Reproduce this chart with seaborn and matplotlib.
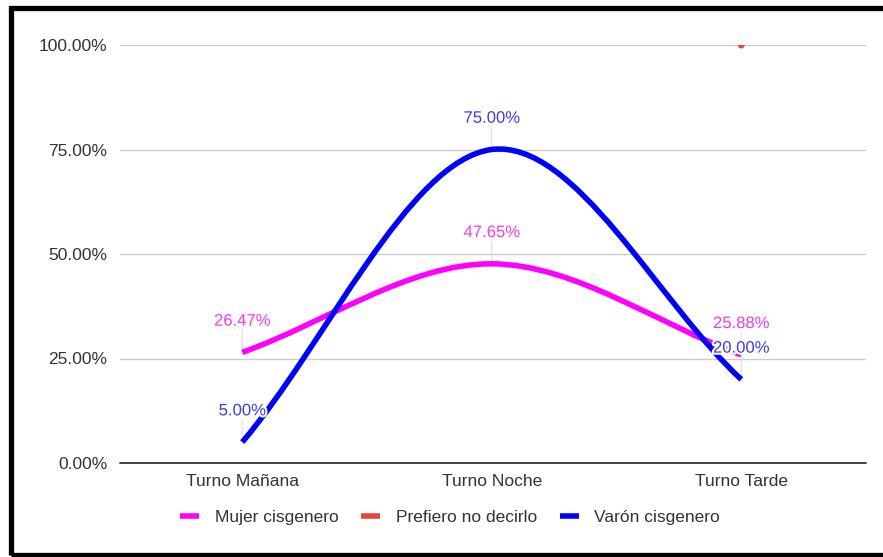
import numpy as np
import pandas as pd
import matplotlib
matplotlib.use("Agg")
import matplotlib.pyplot as plt
import seaborn as sns
from matplotlib.path import Path
from matplotlib.patches import PathPatch, Rectangle
from matplotlib.lines import Line2D
import matplotlib.patheffects as pe

# ---- data ----
categories = ["Turno Mañana", "Turno Noche", "Turno Tarde"]
mujer = [26.47, 47.65, 25.88]
prefiero = [None, None, 100.0]
varon = [5.00, 75.00, 20.00]
series_names = ["Mujer cisgenero", "Prefiero no decirlo", "Varón cisgenero"]
y_ticks = [0, 25, 50, 75, 100]

colors = {"Mujer cisgenero": "#ff00ff", "Prefiero no decirlo": "#e8453c", "Varón cisgenero": "#0000ff"}
label_colors = {"Mujer cisgenero": "#f03cf0", "Varón cisgenero": "#3c3ce6"}

sns.set_theme(style="white")
plt.rcParams["font.family"] = ["Liberation Sans", "DejaVu Sans"]

fig = plt.figure(figsize=(8.83, 5.57), dpi=100)
ax = fig.add_axes([120 / 883, 94 / 557, 746 / 883, 418 / 557])

x = np.arange(len(categories))


def smooth_path(xs, ys):
    pts = np.column_stack([xs, ys]).astype(float)
    n = len(pts)
    tang = []
    for i in range(n):
        if i == 0:
            t = pts[1] - pts[0]
        elif i == n - 1:
            t = pts[-1] - pts[-2]
        else:
            t = (pts[i + 1] - pts[i - 1]) / 2
        tang.append(t)
    verts = [pts[0]]
    codes = [Path.MOVETO]
    for i in range(n - 1):
        verts += [pts[i] + tang[i] / 3, pts[i + 1] - tang[i + 1] / 3, pts[i + 1]]
        codes += [Path.CURVE4] * 3
    return Path(verts, codes)


# gridlines
for yt in y_ticks:
    if yt == 0:
        ax.axhline(yt, color="#333333", lw=1.3, zorder=2, clip_on=False)
    else:
        ax.axhline(yt, color="#cccccc", lw=1.0, zorder=0.5)

# red single point
df_pref = pd.DataFrame({"x": x, "y": prefiero}).dropna()
sns.scatterplot(data=df_pref, x="x", y="y", ax=ax, color=colors["Prefiero no decirlo"],
                s=25, edgecolor="none", zorder=3, legend=False)

for name, vals in [("Mujer cisgenero", mujer), ("Varón cisgenero", varon)]:
    path = smooth_path(x, vals)
    ax.add_patch(PathPatch(path, facecolor="none", edgecolor=colors[name], lw=4.0,
                           capstyle="butt", zorder=3))
    for xi, v in zip(x, vals):
        ax.annotate("", xy=(xi, v), xytext=(0, 16), textcoords="offset points",
                    arrowprops=dict(arrowstyle="-", color="#dddddd", lw=0.8,
                                    shrinkA=0, shrinkB=0), zorder=1)
        ax.annotate(f"{v:.2f}%", xy=(xi, v), xytext=(0, 22.5), textcoords="offset points",
                    ha="center", va="center", fontsize=12, color=label_colors[name],
                    path_effects=[pe.withStroke(linewidth=3, foreground="white")], zorder=5)

ax.set_xlim(-0.49, 2.5)
ax.set_ylim(0, 100)
ax.set_xticks(x)
ax.set_xticklabels(categories)
ax.set_yticks(y_ticks)
ax.set_yticklabels([f"{v:.2f}%" for v in y_ticks])
ax.tick_params(axis="both", length=0, labelsize=12.5, colors="#333333")
ax.tick_params(axis="x", pad=8)
ax.tick_params(axis="y", pad=9)
for s in ax.spines.values():
    s.set_visible(False)
ax.set_xlabel("")
ax.set_ylabel("")

handles = [Line2D([0], [0], color=colors[n], lw=4, solid_capstyle="butt") for n in series_names]
fig.legend(handles, series_names, loc="center", bbox_to_anchor=(450 / 883, 40 / 557),
           ncol=3, frameon=False, fontsize=12.5, handlelength=1.1, handletextpad=0.9,
           columnspacing=1.3, labelcolor="#333333")

# black border
fig.patches.append(Rectangle((10.5 / 883, 2 / 557), 1.1, 547.5 / 557, transform=fig.transFigure,
                             fill=False, edgecolor="black", lw=3.8, zorder=10))

fig.savefig("out.png", dpi=100, facecolor="white")
